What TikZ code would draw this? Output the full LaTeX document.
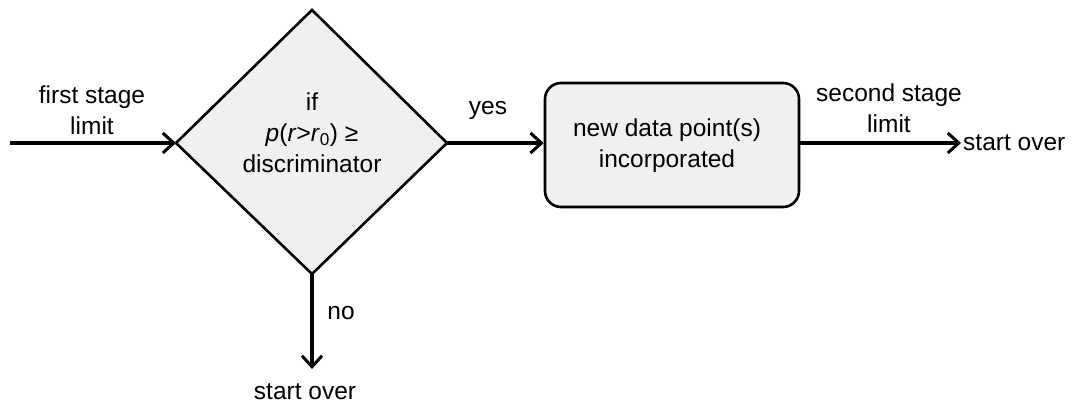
\documentclass[tikz,border=0pt]{standalone}
\usepackage{fontspec}
\setmainfont{Liberation Sans}
\usetikzlibrary{arrows.meta,shapes.geometric}
\begin{document}
\begin{tikzpicture}[x=1pt,y=-1pt,
  every node/.style={font=\fontsize{24.5}{31}\selectfont, inner sep=0pt},
  conn/.style={line width=3.4pt, -{Straight Barb[length=11pt,width=20pt,line width=3pt]}},
  shapeline/.style={draw, line width=2.6pt, fill=black!6}]
\useasboundingbox (0,0) rectangle (1078,404);
\draw[shapeline] (176,143) coordinate (dl) -- (312,10) coordinate (dt) -- (447,143) coordinate (dr) -- (312,274) coordinate (db) -- cycle;
\node (dtext) at (312,133) [align=center] {if\\\textit{p}(\textit{r}>\textit{r}\textsubscript{0}) ≥\\discriminator};
\node (box) [shapeline, rounded corners=16pt, minimum width=254pt, minimum height=124pt] at (672,145) {};
\node (btext) at (667,146) [align=center] {new data point(s)\\incorporated};
\coordinate (in) at (10,143);
\coordinate (out) at (961,143);
\coordinate (down) at (312,369);
\draw[conn] (in) -- (dl);
\draw[conn] (dr) -- (dr -| box.west);
\draw[conn] (out -| box.east) -- (out);
\draw[conn] (db) -- (down);
\node (l1) at (92,110) [align=center] {first stage\\limit};
\node (l2) at (889,108) [align=center] {second stage\\limit};
\node (yes) at (488,110) {yes};
\node (no) at (341,313) {no};
\node (so1) [anchor=west] at ([xshift=2pt]out) {start over};
\node (so2) at (305,392) {start over};
\end{tikzpicture}
\end{document}
